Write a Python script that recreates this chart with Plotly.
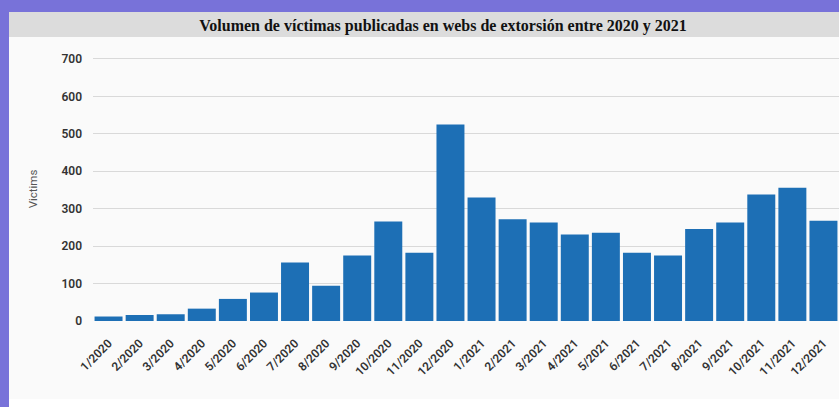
import plotly.graph_objects as go

months = ["1/2020", "2/2020", "3/2020", "4/2020", "5/2020", "6/2020",
          "7/2020", "8/2020", "9/2020", "10/2020", "11/2020", "12/2020",
          "1/2021", "2/2021", "3/2021", "4/2021", "5/2021", "6/2021",
          "7/2021", "8/2021", "9/2021", "10/2021", "11/2021", "12/2021"]
victims = [12, 16, 18, 33, 59, 76, 156, 94, 175, 266, 182, 525,
           330, 272, 263, 231, 236, 182, 175, 246, 263, 338, 356, 268]
y_ticks = [0, 100, 200, 300, 400, 500, 600, 700]

title_text = "Volumen de víctimas publicadas en webs de extorsión entre 2020 y 2021"

W, H = 839, 407
ML, MR, MT, MB = 93, 0, 57, 86
PW = W - ML - MR
PH = H - MT - MB


def px_x(px):
    return (px - ML) / PW


def px_y(py):
    return (H - MB - py) / PH


fig = go.Figure()
fig.add_trace(go.Bar(
    x=months, y=victims,
    marker=dict(color="#1d6fb5", line=dict(width=0)),
    hoverinfo="x+y",
))

shapes = [
    dict(type="rect", xref="paper", yref="paper", layer="below",
         x0=px_x(9), x1=px_x(845), y0=px_y(410), y1=px_y(37),
         fillcolor="#ffffff", line=dict(width=0)),
    dict(type="rect", xref="paper", yref="paper", layer="below",
         x0=px_x(9), x1=px_x(845), y0=px_y(399), y1=px_y(37),
         fillcolor="#fafafa", line=dict(width=0)),
    dict(type="rect", xref="paper", yref="paper", layer="below",
         x0=px_x(9), x1=px_x(845), y0=px_y(37), y1=px_y(12),
         fillcolor="#dcdcdc", line=dict(width=0)),
]

tick_font = dict(family="Roboto", size=12, color="#333333", weight=600)

fig.update_layout(
    width=W, height=H,
    margin=dict(l=ML, r=MR, t=MT, b=MB, pad=0, autoexpand=False),
    paper_bgcolor="#7872d9",
    plot_bgcolor="#fafafa",
    showlegend=False,
    bargap=0.1,
    shapes=shapes,
    title=dict(
        text="<b>" + title_text + "</b>",
        x=443 / W, xanchor="center", xref="container",
        y=1 - 25 / H, yanchor="middle", yref="container",
        automargin=False,
        font=dict(family="Liberation Serif", size=16, color="#111111"),
    ),
    xaxis=dict(
        automargin=False,
        tickangle=-45,
        tickfont=tick_font,
        showgrid=False, showline=False, zeroline=False,
        ticks="", ticklabelstandoff=12,
        range=[-0.5, 23.5],
    ),
    yaxis=dict(
        automargin=False,
        range=[0, 705],
        tickvals=y_ticks,
        tickfont=tick_font,
        showgrid=True, gridcolor="#d9d9d9", gridwidth=1.2,
        zeroline=False, showline=False, ticks="",
        ticklabelstandoff=10,
        title=dict(text="Victims", standoff=21,
                   font=dict(family="Roboto", size=11.5, color="#555555")),
    ),
)

fig.write_html(
    "out.html",
    config={"displayModeBar": False},
    post_script="document.body.style.margin='0';document.body.style.overflow='hidden';",
)
